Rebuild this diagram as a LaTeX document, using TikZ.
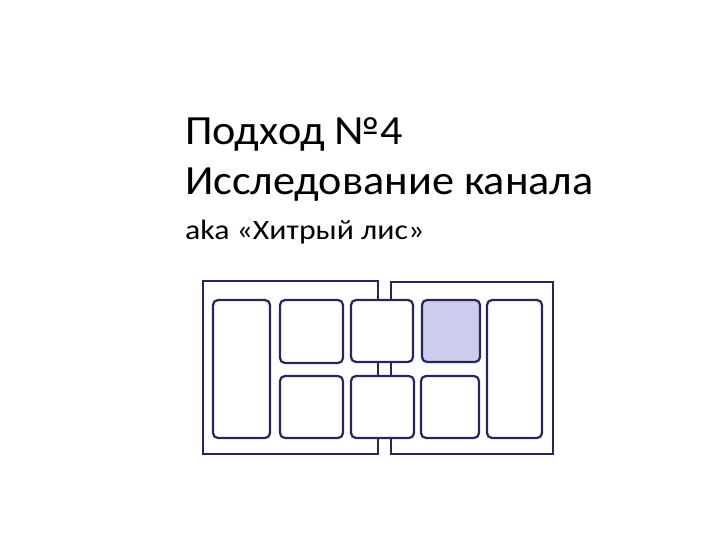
\documentclass[tikz,border=0pt]{standalone}
\usepackage{fontspec}
\setmainfont{Carlito}
\newfontfamily\widefont[FakeStretch=1.065]{Carlito}
\newfontfamily\subfont[FakeStretch=1.135]{Carlito}
\definecolor{navy}{RGB}{38,38,92}
\definecolor{lav}{RGB}{204,204,236}
\begin{document}
\begin{tikzpicture}[x=1pt,y=-1pt,
  frame/.style={draw=navy,line width=2.2pt},
  box/.style={draw=navy,line width=2.2pt,fill=white,rounded corners=5pt,inner sep=0pt},
  title/.style={anchor=base west,inner sep=0pt,font=\widefont\fontsize{41.5}{41.5}\selectfont},
  sub/.style={anchor=base west,inner sep=0pt,font=\subfont\fontsize{28}{28}\selectfont}]
\useasboundingbox (0,0) rectangle (720,540);
\node[title] (t1) at (185,144.3) {Подход №4};
\node[title] (t2) at (185,195) {Исследование канала};
\node[sub] (t3) at (185,239.3) {aka «Хитрый лис»};
\draw[frame] (203,281) rectangle (378,454);
\draw[frame] (391,282) rectangle (553,454);
\node[box,minimum width=57pt,minimum height=138pt] (b1) at (241.5,369) {};
\node[box,minimum width=63pt,minimum height=63pt] (b2) at (311.5,331.5) {};
\node[box,minimum width=63pt,minimum height=62pt] (b3) at (311.5,407) {};
\node[box,minimum width=62pt,minimum height=62pt] (b4) at (382,331) {};
\node[box,minimum width=63pt,minimum height=62pt] (b5) at (382.5,407) {};
\node[box,fill=lav,minimum width=58pt,minimum height=62pt] (b6) at (451,331) {};
\node[box,minimum width=58pt,minimum height=62pt] (b7) at (450,407) {};
\node[box,minimum width=55pt,minimum height=138pt] (b8) at (514.5,369) {};
\end{tikzpicture}
\end{document}
